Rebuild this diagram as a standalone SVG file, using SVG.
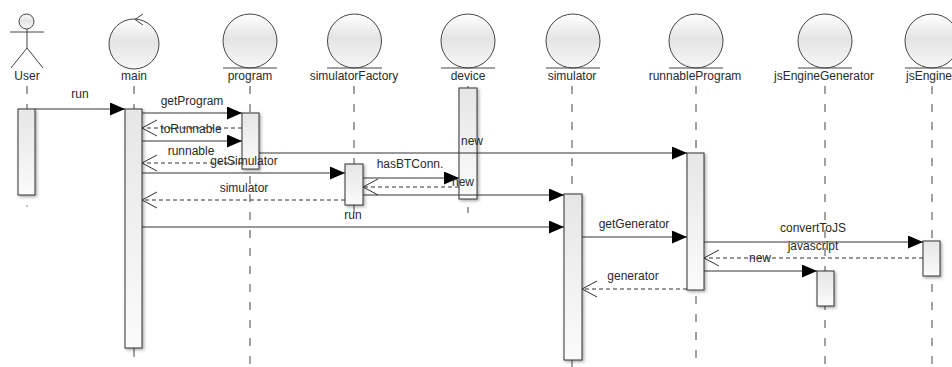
<svg xmlns="http://www.w3.org/2000/svg" width="952" height="367" viewBox="0 0 952 367">
<defs>
<linearGradient id="barg" x1="0" y1="0" x2="0" y2="1">
<stop offset="0" stop-color="#e6e6e6"/>
<stop offset="1" stop-color="#fbfbfb"/>
</linearGradient>
<linearGradient id="circg" x1="0" y1="0" x2="0" y2="1">
<stop offset="0" stop-color="#ffffff"/>
<stop offset="0.45" stop-color="#e4e4e4"/>
<stop offset="1" stop-color="#f7f7f7"/>
</linearGradient>
<filter id="sh" x="-50%" y="-20%" width="200%" height="140%">
<feDropShadow dx="1.5" dy="1.5" stdDeviation="1.8" flood-color="#000" flood-opacity="0.35"/>
</filter>
<marker id="fa" markerUnits="userSpaceOnUse" markerWidth="16" markerHeight="14" refX="15" refY="6.5" orient="auto">
<path d="M0,0 L15,6.5 L0,13 z" fill="#000"/>
</marker>
<marker id="oa" markerUnits="userSpaceOnUse" markerWidth="17" markerHeight="18" refX="15.5" refY="8.5" orient="auto">
<path d="M0.5,0.5 L15.5,8.5 L0.5,16.5" fill="none" stroke="#333" stroke-width="1"/>
</marker>
</defs>
<style>
text{font-family:"Liberation Sans",Arial,sans-serif;font-size:12px;fill:#2a2a2a;text-anchor:middle}
.ll{stroke:#444;stroke-width:1;stroke-dasharray:8 10;fill:none}
.bar{fill:url(#barg);stroke:#333;stroke-width:1;filter:url(#sh)}
.ent{fill:url(#circg);stroke:#444;stroke-width:1}
.ul{stroke:#444;stroke-width:1}
.m{stroke:#333;stroke-width:1;fill:none;marker-end:url(#fa)}
.r{stroke:#333;stroke-width:1;fill:none;stroke-dasharray:4 3;marker-end:url(#oa)}
</style>
<rect width="952" height="367" fill="#fff"/>

<g id="lifelines">
<line class="ll" x1="27" y1="86" x2="27" y2="109"/>
<line x1="27" y1="205" x2="27" y2="207" stroke="#888"/>
<line class="ll" x1="134" y1="86" x2="134" y2="109"/>
<line x1="134" y1="348" x2="134" y2="357" stroke="#444"/>
<line class="ll" x1="250" y1="86" x2="250" y2="367"/>
<line class="ll" x1="354" y1="86" x2="354" y2="164"/>
<line x1="354" y1="205" x2="354" y2="213" stroke="#444"/>
<line x1="468" y1="86" x2="468" y2="88" stroke="#444"/>
<line x1="468" y1="207" x2="468" y2="213" stroke="#444"/>
<line class="ll" x1="572" y1="86" x2="572" y2="194"/>
<line x1="572" y1="360" x2="572" y2="367" stroke="#444"/>
<line class="ll" x1="696" y1="86" x2="696" y2="153"/>
<line class="ll" x1="696" y1="296" x2="696" y2="367"/>
<line class="ll" x1="825" y1="86" x2="825" y2="367"/>
<line class="ll" x1="932" y1="86" x2="932" y2="367"/>
</g>

<g id="User">
<circle cx="26.5" cy="21.5" r="7.5" fill="url(#circg)" stroke="#444"/>
<line x1="10" y1="32" x2="44" y2="32" stroke="#444"/>
<line x1="27" y1="29" x2="27" y2="48" stroke="#444"/>
<line x1="27" y1="48" x2="11" y2="68" stroke="#444"/>
<line x1="27" y1="48" x2="43" y2="68" stroke="#444"/>
<text x="27" y="79.5">User</text>
<rect class="bar" x="18" y="109" width="17" height="86"/>
</g>

<g id="main">
<circle class="ent" cx="134" cy="44" r="25"/>
<path d="M143,14 L135,19.5 L143,25" fill="none" stroke="#444"/>
<text x="134" y="79.5">main</text>
<rect class="bar" x="125" y="109" width="17" height="239"/>
</g>

<g id="program">
<circle class="ent" cx="250" cy="41" r="27"/>
<line class="ul" x1="223" y1="68" x2="277" y2="68"/>
<text x="250" y="79.5">program</text>
<rect class="bar" x="242" y="113" width="17" height="56"/>
</g>

<g id="simulatorFactory">
<circle class="ent" cx="354.5" cy="41" r="27"/>
<line class="ul" x1="327" y1="68" x2="382" y2="68"/>
<text x="354" y="79.5">simulatorFactory</text>
<rect class="bar" x="345" y="164" width="18" height="41"/>
</g>

<g id="device">
<circle class="ent" cx="468" cy="41" r="27"/>
<line class="ul" x1="441" y1="68" x2="495" y2="68"/>
<text x="468" y="79.5">device</text>
<rect class="bar" x="459" y="88" width="18" height="111"/>
</g>

<g id="simulator">
<circle class="ent" cx="573" cy="41" r="27"/>
<line class="ul" x1="546" y1="68" x2="600" y2="68"/>
<text x="572" y="79.5">simulator</text>
<rect class="bar" x="564" y="194" width="18" height="166"/>
</g>

<g id="runnableProgram">
<circle class="ent" cx="696" cy="41" r="27"/>
<line class="ul" x1="669" y1="68" x2="723" y2="68"/>
<text x="695" y="79.5">runnableProgram</text>
<rect class="bar" x="687" y="153" width="17" height="137"/>
</g>

<g id="jsEngineGenerator">
<circle class="ent" cx="825" cy="41" r="27"/>
<line class="ul" x1="798" y1="68" x2="852" y2="68"/>
<text x="824" y="79.5">jsEngineGenerator</text>
<rect class="bar" x="817" y="271" width="17" height="35"/>
</g>

<g id="jsEngine">
<circle class="ent" cx="932" cy="41" r="27"/>
<line class="ul" x1="905" y1="68" x2="959" y2="68"/>
<text x="906" y="79.5" style="text-anchor:start">jsEngine</text>
<rect class="bar" x="923" y="241" width="17" height="35"/>
</g>

<g id="connectors">
<line class="m" x1="35" y1="109" x2="125" y2="109"/>
<line class="m" x1="142" y1="113" x2="242" y2="113"/>
<line class="r" x1="242" y1="128" x2="142" y2="128"/>
<line class="m" x1="142" y1="141" x2="242" y2="141"/>
<line class="r" x1="242" y1="163" x2="142" y2="163"/>
<line class="m" x1="259" y1="153" x2="687" y2="153"/>
<line class="m" x1="142" y1="173" x2="345" y2="173"/>
<line class="m" x1="363" y1="178" x2="459" y2="178"/>
<line class="r" x1="459" y1="187" x2="363" y2="187"/>
<line class="r" x1="345" y1="200" x2="142" y2="200"/>
<line class="m" x1="363" y1="195" x2="564" y2="195"/>
<line class="m" x1="142" y1="227" x2="564" y2="227"/>
<line class="m" x1="582" y1="237" x2="687" y2="237"/>
<line class="m" x1="704" y1="242" x2="923" y2="242"/>
<line class="r" x1="923" y1="258" x2="704" y2="258"/>
<line class="m" x1="704" y1="271" x2="817" y2="271"/>
<line class="r" x1="687" y1="289" x2="582" y2="289"/>
</g>

<g id="labels">
<text x="80" y="97.5">run</text>
<text x="192" y="104.5">getProgram</text>
<text x="191" y="132.5">toRunnable</text>
<text x="191" y="154.5">runnable</text>
<text x="472" y="144.5">new</text>
<text x="244" y="164.5">getSimulator</text>
<text x="410" y="167.5">hasBTConn.</text>
<text x="463" y="185.5">new</text>
<text x="244" y="191.5">simulator</text>
<text x="353" y="218.5">run</text>
<text x="634" y="227.5">getGenerator</text>
<text x="813" y="231.5">convertToJS</text>
<text x="813" y="249.5">javascript</text>
<text x="760" y="261.5">new</text>
<text x="633" y="279.5">generator</text>
</g>
</svg>
